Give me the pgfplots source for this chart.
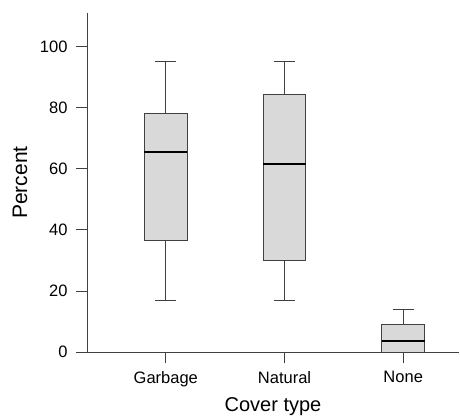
\documentclass[border=0pt]{standalone}
\usepackage{pgfplots}
\pgfplotsset{compat=1.18}
\usepgfplotslibrary{statistics}
\usepackage{fontspec}
\setmainfont{Liberation Sans}
\definecolor{axgray}{HTML}{404040}
\definecolor{boxfill}{HTML}{D9D9D9}
\begin{document}
\begin{tikzpicture}
\begin{axis}[
  name=ax,
  scale only axis,
  width=372pt, height=339pt,
  xmin=0.336, xmax=3.47,
  ymin=0, ymax=111,
  axis x line=bottom, axis y line=left,
  axis line style={-, axgray, line width=0.8pt},
  xtick={1,2,3}, xticklabels={Garbage,Natural,None},
  ytick={0,20,40,60,80,100},
  tick align=outside,
  major tick length=11pt,
  tick style={axgray, line width=0.8pt},
  /pgf/number format/assume math mode=true,
  ticklabel style={font=\fontsize{16.5}{19}\selectfont, text=black},
  yticklabel style={xshift=-5pt},
  xticklabel style={yshift=-5pt},
  every axis y label/.style={at={(rel axis cs:0,0.5)}, xshift=-67pt, rotate=90, anchor=center, font=\fontsize{21}{24}\selectfont},
  every axis x label/.style={at={(rel axis cs:0.5,0)}, yshift=-55pt, anchor=center, font=\fontsize{20}{24}\selectfont},
  ylabel={Percent},
  xlabel={Cover type},
  boxplot/draw direction=y,
  boxstyle/.style={draw=axgray, fill=boxfill, line width=0.8pt,
    boxplot/draw direction=y,
    boxplot/box extend=0.36,
    boxplot/whisker extend=0.18,
    boxplot/every median/.style={draw=black, line width=1.8pt}},
]
\addplot[boxstyle, boxplot prepared={draw direction=y, draw position=1, lower whisker=17, lower quartile=36.4, median=65.4, upper quartile=78, upper whisker=95}] coordinates {};
\addplot[boxstyle, boxplot prepared={draw direction=y, draw position=2, lower whisker=17, lower quartile=30, median=61.5, upper quartile=84.4, upper whisker=95}] coordinates {};
\addplot[boxstyle, boxplot prepared={draw direction=y, draw position=3, lower whisker=0, lower quartile=0, median=3.5, upper quartile=9, upper whisker=14}] coordinates {};
\end{axis}
\pgfresetboundingbox
\path (ax.south west) ++(-87pt,-67pt) coordinate (bl);
\path (ax.north east) ++(1pt,13pt) coordinate (tr);
\path[use as bounding box] (bl) rectangle (tr);
\end{tikzpicture}
\end{document}
